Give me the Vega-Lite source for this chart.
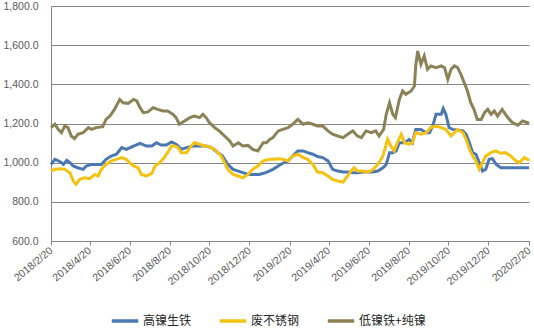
{
  "$schema": "https://vega.github.io/schema/vega-lite/v6.json",
  "width": 478,
  "height": 235,
  "autosize": {"type": "none"},
  "padding": {"left": 51, "top": 6, "right": 5, "bottom": 89},
  "background": "white",
  "config": {"view": {"stroke": null}},
  "datasets": {
    "blue": [
      {"d":"2018-02-20","v":991},{"d":"2018-02-26","v":1017},{"d":"2018-03-06","v":1005},{"d":"2018-03-11","v":991},{"d":"2018-03-16","v":1012},{"d":"2018-03-21","v":1000},{"d":"2018-03-26","v":983},{"d":"2018-04-02","v":974},{"d":"2018-04-10","v":966},{"d":"2018-04-15","v":983},{"d":"2018-04-23","v":991},{"d":"2018-04-30","v":991},{"d":"2018-05-08","v":991},{"d":"2018-05-15","v":1017},{"d":"2018-05-23","v":1034},{"d":"2018-05-31","v":1043},{"d":"2018-06-08","v":1077},{"d":"2018-06-15","v":1068},{"d":"2018-06-26","v":1085},{"d":"2018-07-06","v":1099},{"d":"2018-07-16","v":1085},{"d":"2018-07-24","v":1085},{"d":"2018-07-31","v":1102},{"d":"2018-08-07","v":1090},{"d":"2018-08-15","v":1090},{"d":"2018-08-23","v":1106},{"d":"2018-08-30","v":1094},{"d":"2018-09-07","v":1068},{"d":"2018-09-15","v":1077},{"d":"2018-09-25","v":1085},{"d":"2018-10-05","v":1085},{"d":"2018-10-15","v":1085},{"d":"2018-10-23","v":1077},{"d":"2018-11-02","v":1051},{"d":"2018-11-09","v":1034},{"d":"2018-11-17","v":991},{"d":"2018-11-25","v":966},{"d":"2018-12-03","v":957},{"d":"2018-12-10","v":949},{"d":"2018-12-18","v":940},{"d":"2018-12-25","v":940},{"d":"2019-01-04","v":940},{"d":"2019-01-15","v":950},{"d":"2019-01-25","v":966},{"d":"2019-02-02","v":983},{"d":"2019-02-09","v":997},{"d":"2019-02-17","v":1009},{"d":"2019-02-24","v":1034},{"d":"2019-03-04","v":1060},{"d":"2019-03-12","v":1060},{"d":"2019-03-19","v":1051},{"d":"2019-03-27","v":1043},{"d":"2019-04-03","v":1031},{"d":"2019-04-11","v":1026},{"d":"2019-04-19","v":1009},{"d":"2019-04-26","v":966},{"d":"2019-05-04","v":957},{"d":"2019-05-12","v":952},{"d":"2019-05-19","v":952},{"d":"2019-05-27","v":949},{"d":"2019-06-03","v":949},{"d":"2019-06-11","v":952},{"d":"2019-06-19","v":952},{"d":"2019-06-26","v":952},{"d":"2019-07-04","v":957},{"d":"2019-07-12","v":974},{"d":"2019-07-17","v":991},{"d":"2019-07-22","v":1051},{"d":"2019-07-27","v":1051},{"d":"2019-08-01","v":1060},{"d":"2019-08-06","v":1102},{"d":"2019-08-14","v":1102},{"d":"2019-08-21","v":1119},{"d":"2019-08-26","v":1102},{"d":"2019-08-31","v":1170},{"d":"2019-09-08","v":1170},{"d":"2019-09-16","v":1153},{"d":"2019-09-21","v":1153},{"d":"2019-09-26","v":1187},{"d":"2019-10-01","v":1247},{"d":"2019-10-09","v":1247},{"d":"2019-10-12","v":1276},{"d":"2019-10-16","v":1247},{"d":"2019-10-21","v":1179},{"d":"2019-10-26","v":1170},{"d":"2019-11-03","v":1167},{"d":"2019-11-11","v":1162},{"d":"2019-11-16","v":1145},{"d":"2019-11-21","v":1102},{"d":"2019-11-26","v":1051},{"d":"2019-12-01","v":1043},{"d":"2019-12-06","v":1000},{"d":"2019-12-11","v":957},{"d":"2019-12-16","v":966},{"d":"2019-12-21","v":1017},{"d":"2019-12-26","v":1020},{"d":"2020-01-01","v":991},{"d":"2020-01-08","v":974},{"d":"2020-01-15","v":974},{"d":"2020-01-26","v":974},{"d":"2020-02-10","v":974},{"d":"2020-02-20","v":974}
    ],
    "yellow": [
      {"d":"2018-02-20","v":957},{"d":"2018-02-26","v":966},{"d":"2018-03-06","v":969},{"d":"2018-03-13","v":966},{"d":"2018-03-21","v":949},{"d":"2018-03-26","v":906},{"d":"2018-03-30","v":889},{"d":"2018-04-05","v":915},{"d":"2018-04-12","v":923},{"d":"2018-04-20","v":918},{"d":"2018-04-28","v":940},{"d":"2018-05-03","v":932},{"d":"2018-05-08","v":966},{"d":"2018-05-15","v":991},{"d":"2018-05-23","v":1009},{"d":"2018-05-31","v":1017},{"d":"2018-06-08","v":1026},{"d":"2018-06-15","v":1017},{"d":"2018-06-20","v":1000},{"d":"2018-06-26","v":983},{"d":"2018-07-03","v":974},{"d":"2018-07-08","v":940},{"d":"2018-07-16","v":932},{"d":"2018-07-24","v":945},{"d":"2018-07-29","v":983},{"d":"2018-08-05","v":1000},{"d":"2018-08-12","v":1026},{"d":"2018-08-17","v":1051},{"d":"2018-08-23","v":1085},{"d":"2018-08-28","v":1085},{"d":"2018-09-02","v":1077},{"d":"2018-09-07","v":1051},{"d":"2018-09-15","v":1051},{"d":"2018-09-22","v":1085},{"d":"2018-09-27","v":1102},{"d":"2018-10-05","v":1094},{"d":"2018-10-12","v":1085},{"d":"2018-10-20","v":1082},{"d":"2018-10-28","v":1068},{"d":"2018-11-07","v":1034},{"d":"2018-11-17","v":966},{"d":"2018-11-25","v":940},{"d":"2018-12-03","v":932},{"d":"2018-12-10","v":923},{"d":"2018-12-18","v":940},{"d":"2018-12-25","v":966},{"d":"2019-01-02","v":983},{"d":"2019-01-10","v":1009},{"d":"2019-01-20","v":1017},{"d":"2019-01-25","v":1017},{"d":"2019-02-02","v":1020},{"d":"2019-02-09","v":1017},{"d":"2019-02-17","v":1009},{"d":"2019-02-24","v":1034},{"d":"2019-03-04","v":1043},{"d":"2019-03-12","v":1026},{"d":"2019-03-19","v":1017},{"d":"2019-03-27","v":991},{"d":"2019-04-03","v":952},{"d":"2019-04-11","v":949},{"d":"2019-04-19","v":932},{"d":"2019-04-26","v":915},{"d":"2019-05-04","v":906},{"d":"2019-05-12","v":901},{"d":"2019-05-17","v":923},{"d":"2019-05-24","v":957},{"d":"2019-05-29","v":974},{"d":"2019-06-03","v":957},{"d":"2019-06-11","v":957},{"d":"2019-06-19","v":952},{"d":"2019-06-26","v":962},{"d":"2019-07-04","v":991},{"d":"2019-07-12","v":1034},{"d":"2019-07-19","v":1119},{"d":"2019-07-24","v":1085},{"d":"2019-07-29","v":1060},{"d":"2019-08-03","v":1102},{"d":"2019-08-09","v":1145},{"d":"2019-08-14","v":1102},{"d":"2019-08-21","v":1094},{"d":"2019-08-26","v":1102},{"d":"2019-08-31","v":1153},{"d":"2019-09-08","v":1145},{"d":"2019-09-16","v":1153},{"d":"2019-09-23","v":1179},{"d":"2019-10-01","v":1187},{"d":"2019-10-09","v":1179},{"d":"2019-10-16","v":1170},{"d":"2019-10-24","v":1136},{"d":"2019-10-29","v":1153},{"d":"2019-11-03","v":1170},{"d":"2019-11-11","v":1153},{"d":"2019-11-16","v":1119},{"d":"2019-11-21","v":1068},{"d":"2019-11-26","v":1034},{"d":"2019-12-01","v":1009},{"d":"2019-12-06","v":966},{"d":"2019-12-11","v":1000},{"d":"2019-12-16","v":1034},{"d":"2019-12-24","v":1051},{"d":"2019-12-31","v":1060},{"d":"2020-01-08","v":1048},{"d":"2020-01-15","v":1051},{"d":"2020-01-23","v":1034},{"d":"2020-01-31","v":1009},{"d":"2020-02-05","v":1000},{"d":"2020-02-13","v":1026},{"d":"2020-02-18","v":1017},{"d":"2020-02-20","v":1009}
    ],
    "gray": [
      {"d":"2018-02-20","v":1179},{"d":"2018-02-26","v":1196},{"d":"2018-03-03","v":1170},{"d":"2018-03-08","v":1153},{"d":"2018-03-13","v":1187},{"d":"2018-03-18","v":1179},{"d":"2018-03-23","v":1136},{"d":"2018-03-28","v":1123},{"d":"2018-04-02","v":1145},{"d":"2018-04-10","v":1153},{"d":"2018-04-18","v":1179},{"d":"2018-04-23","v":1170},{"d":"2018-04-30","v":1179},{"d":"2018-05-10","v":1184},{"d":"2018-05-15","v":1221},{"d":"2018-05-21","v":1238},{"d":"2018-05-28","v":1272},{"d":"2018-06-05","v":1323},{"d":"2018-06-10","v":1306},{"d":"2018-06-18","v":1303},{"d":"2018-06-26","v":1323},{"d":"2018-07-01","v":1315},{"d":"2018-07-06","v":1281},{"d":"2018-07-11","v":1255},{"d":"2018-07-18","v":1259},{"d":"2018-07-26","v":1281},{"d":"2018-08-02","v":1272},{"d":"2018-08-10","v":1264},{"d":"2018-08-17","v":1264},{"d":"2018-08-25","v":1247},{"d":"2018-08-30","v":1230},{"d":"2018-09-04","v":1196},{"d":"2018-09-12","v":1213},{"d":"2018-09-20","v":1230},{"d":"2018-09-27","v":1238},{"d":"2018-10-05","v":1230},{"d":"2018-10-10","v":1247},{"d":"2018-10-15","v":1230},{"d":"2018-10-20","v":1204},{"d":"2018-10-28","v":1179},{"d":"2018-11-04","v":1162},{"d":"2018-11-12","v":1136},{"d":"2018-11-20","v":1111},{"d":"2018-11-25","v":1085},{"d":"2018-12-03","v":1102},{"d":"2018-12-10","v":1085},{"d":"2018-12-18","v":1088},{"d":"2018-12-25","v":1068},{"d":"2019-01-02","v":1060},{"d":"2019-01-10","v":1102},{"d":"2019-01-15","v":1102},{"d":"2019-01-20","v":1119},{"d":"2019-01-25","v":1128},{"d":"2019-02-02","v":1162},{"d":"2019-02-09","v":1170},{"d":"2019-02-17","v":1179},{"d":"2019-02-24","v":1196},{"d":"2019-03-04","v":1221},{"d":"2019-03-12","v":1196},{"d":"2019-03-19","v":1204},{"d":"2019-03-27","v":1196},{"d":"2019-04-03","v":1187},{"d":"2019-04-11","v":1187},{"d":"2019-04-19","v":1162},{"d":"2019-04-26","v":1145},{"d":"2019-05-04","v":1136},{"d":"2019-05-12","v":1128},{"d":"2019-05-19","v":1145},{"d":"2019-05-27","v":1162},{"d":"2019-06-03","v":1136},{"d":"2019-06-09","v":1128},{"d":"2019-06-16","v":1162},{"d":"2019-06-24","v":1153},{"d":"2019-07-01","v":1162},{"d":"2019-07-06","v":1136},{"d":"2019-07-13","v":1170},{"d":"2019-07-17","v":1247},{"d":"2019-07-22","v":1306},{"d":"2019-07-27","v":1247},{"d":"2019-07-31","v":1230},{"d":"2019-08-06","v":1323},{"d":"2019-08-11","v":1366},{"d":"2019-08-16","v":1349},{"d":"2019-08-24","v":1366},{"d":"2019-08-29","v":1391},{"d":"2019-08-31","v":1494},{"d":"2019-09-03","v":1570},{"d":"2019-09-08","v":1502},{"d":"2019-09-13","v":1545},{"d":"2019-09-18","v":1477},{"d":"2019-09-23","v":1494},{"d":"2019-10-01","v":1485},{"d":"2019-10-09","v":1494},{"d":"2019-10-14","v":1485},{"d":"2019-10-19","v":1426},{"d":"2019-10-24","v":1477},{"d":"2019-10-29","v":1494},{"d":"2019-11-03","v":1485},{"d":"2019-11-08","v":1451},{"d":"2019-11-13","v":1409},{"d":"2019-11-18","v":1366},{"d":"2019-11-23","v":1306},{"d":"2019-11-28","v":1272},{"d":"2019-12-03","v":1221},{"d":"2019-12-09","v":1221},{"d":"2019-12-14","v":1255},{"d":"2019-12-19","v":1272},{"d":"2019-12-24","v":1247},{"d":"2019-12-29","v":1264},{"d":"2020-01-03","v":1238},{"d":"2020-01-10","v":1272},{"d":"2020-01-15","v":1247},{"d":"2020-01-21","v":1221},{"d":"2020-01-26","v":1204},{"d":"2020-02-03","v":1191},{"d":"2020-02-10","v":1213},{"d":"2020-02-18","v":1204},{"d":"2020-02-20","v":1200}
    ]
  },
  "encoding": {
    "x": {
      "field": "d", "type": "temporal",
      "scale": {"type": "utc", "domain": [{"year":2018,"month":2,"date":20,"utc":true},{"year":2020,"month":2,"date":20,"utc":true}], "nice": false},
      "axis": {
        "title": null, "grid": false,
        "values": [
          {"year":2018,"month":2,"date":20,"utc":true},{"year":2018,"month":4,"date":20,"utc":true},{"year":2018,"month":6,"date":20,"utc":true},{"year":2018,"month":8,"date":20,"utc":true},{"year":2018,"month":10,"date":20,"utc":true},{"year":2018,"month":12,"date":20,"utc":true},
          {"year":2019,"month":2,"date":20,"utc":true},{"year":2019,"month":4,"date":20,"utc":true},{"year":2019,"month":6,"date":20,"utc":true},{"year":2019,"month":8,"date":20,"utc":true},{"year":2019,"month":10,"date":20,"utc":true},{"year":2019,"month":12,"date":20,"utc":true},{"year":2020,"month":2,"date":20,"utc":true}
        ],
        "format": "%Y/%-m/%-d",
        "labelAngle": -40,
        "labelAlign": "right",
        "labelBaseline": "middle",
        "labelPadding": 4,
        "labelFont": "Liberation Sans",
        "labelFontSize": 10.5,
        "labelColor": "#595959",
        "labelOverlap": false,
        "labelFlush": false,
        "domainColor": "#868686",
        "tickColor": "#868686",
        "tickSize": 4
      }
    },
    "y": {
      "field": "v", "type": "quantitative",
      "scale": {"domain": [600, 1800], "nice": false, "zero": false},
      "axis": {
        "title": null,
        "values": [600, 800, 1000, 1200, 1400, 1600, 1800],
        "format": ",.1f",
        "ticks": false,
        "labelPadding": 13,
        "labelFont": "Liberation Sans",
        "labelFontSize": 10.5,
        "labelColor": "#595959",
        "domainColor": "#868686",
        "gridColor": "#868686",
        "gridWidth": 1
      }
    },
    "color": {
      "field": "s", "type": "nominal",
      "scale": {"domain": ["高镍生铁", "废不锈钢", "低镍铁+纯镍"], "range": ["#4A78B2", "#F5C211", "#8C8257"]},
      "legend": {
        "title": null,
        "orient": "none",
        "direction": "horizontal",
        "legendX": 59,
        "legendY": 300,
        "symbolType": "stroke",
        "symbolStrokeWidth": 3.5,
        "symbolSize": 700,
        "labelFont": "Noto Sans CJK SC",
        "labelFontSize": 12,
        "labelColor": "#262626",
        "columnPadding": 20,
        "labelOffset": 3
      }
    }
  },
  "layer": [
    {
      "data": {"name": "blue"},
      "transform": [{"calculate": "'高镍生铁'", "as": "s"}],
      "mark": {"type": "line", "strokeWidth": 3}
    },
    {
      "data": {"name": "yellow"},
      "transform": [{"calculate": "'废不锈钢'", "as": "s"}],
      "mark": {"type": "line", "strokeWidth": 3}
    },
    {
      "data": {"name": "gray"},
      "transform": [{"calculate": "'低镍铁+纯镍'", "as": "s"}],
      "mark": {"type": "line", "strokeWidth": 3}
    }
  ]
}
